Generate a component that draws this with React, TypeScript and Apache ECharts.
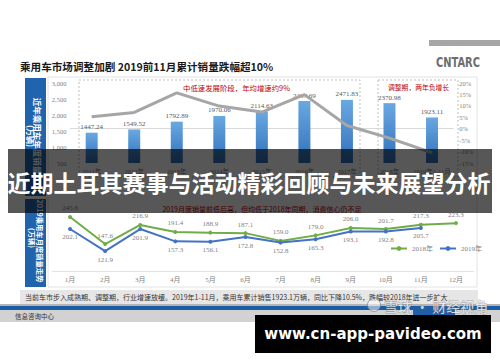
import React, { useEffect, useRef } from 'react';
import * as echarts from 'echarts';

const years = ['2011年', '2012年', '2013年', '2014年', '2015年', '2016年', '2017年', '2018年', '2019年1-11月'];
const annualSales = [1447.24, 1549.52, 1792.89, 1970.06, 2114.63, 2437.69, 2471.83, 2370.98, 1923.11];
const growthRate = [5.2, 7.1, 15.7, 9.9, 7.3, 14.9, 1.4, -4.1, -10.5];

const months = ['1月', '2月', '3月', '4月', '5月', '6月', '7月', '8月', '9月', '10月', '11月', '12月'];
const sales2018 = [245.6, 147.6, 216.9, 191.4, 188.9, 187.1, 159.0, 179.0, 206.0, 201.7, 217.3, 223.3];
const sales2019 = [202.1, 121.9, 201.9, 157.3, 156.1, 172.8, 152.8, 165.3, 193.1, 192.8, 205.7];

const title = '乘用车市场调整加剧 2019前11月累计销量跌幅超10%';
const note1 = '中低速发展阶段，年均增速约9%';
const note2 = '调整期，两年负增长';
const note3 = '2019月度销量前低后高，但均低于2018年同期，消费信心仍不足';
const banner = '近期土耳其赛事与活动精彩回顾与未来展望分析';
const summary = '当前车市步入成熟期、调整期，行业增速放缓。2019年1-11月，乘用车累计销售1923.1万辆，同比下降10.5%，跌幅较2018年进一步扩大';

export default function App() {
  const ref = useRef<HTMLDivElement>(null);
  useEffect(() => {
    const chart = echarts.init(ref.current!, null, { renderer: 'svg' });
    const cjk = '"Noto Sans CJK SC", "Noto Sans", sans-serif';
    const serif = '"Liberation Serif", "Noto Sans CJK SC", serif';
    const vtext = (text: string, x: number, y: number, size: number, bold = true) => ({
      type: 'text', x, y, rotation: -Math.PI / 2, z: 5,
      style: { text, fill: '#ffffff', fontSize: size, fontWeight: bold ? 'bold' : 'normal', fontFamily: cjk, align: 'center', verticalAlign: 'middle' },
    });
    chart.setOption({
      animation: false,
      backgroundColor: '#ffffff',
      textStyle: { fontFamily: cjk },
      grid: [
        { left: 70.4, right: 46.7, top: 83, height: 80 },
        { left: 52.5, right: 26.5, top: 213, height: 58 },
      ],
      legend: {
        data: ['2018年', '2019年'],
        left: 385, top: 240, itemWidth: 16, itemHeight: 6, itemGap: 6,
        textStyle: { fontSize: 7, color: '#7f7f7f', fontFamily: serif },
      },
      xAxis: [
        {
          type: 'category', gridIndex: 0, data: years,
          axisTick: { show: false }, axisLine: { lineStyle: { color: '#d9d9d9' } },
          axisLabel: { fontSize: 6.5, color: '#7f7f7f', margin: 5, interval: 0, fontFamily: serif },
        },
        {
          type: 'category', gridIndex: 1, data: months,
          axisTick: { show: false }, axisLine: { lineStyle: { color: '#e3e3e3' } },
          axisLabel: { fontSize: 7, color: '#7f7f7f', margin: 5, interval: 0, fontFamily: serif },
        },
      ],
      yAxis: [
        {
          type: 'value', gridIndex: 0, min: 500, max: 3000, interval: 500,
          splitLine: { show: false }, axisLine: { show: false }, axisTick: { show: false },
          axisLabel: { fontSize: 6.5, color: '#7f7f7f', margin: 4, fontFamily: serif },
        },
        {
          type: 'value', gridIndex: 0, min: -15, max: 20, interval: 5, position: 'right',
          splitLine: { show: false }, axisLine: { show: false }, axisTick: { show: false },
          axisLabel: { fontSize: 6.5, color: '#7f7f7f', margin: 6, formatter: '{value}%', fontFamily: serif },
        },
        { type: 'value', gridIndex: 1, min: 50, max: 260, show: false },
      ],
      series: [
        {
          type: 'bar', name: '年度销量', xAxisIndex: 0, yAxisIndex: 0, data: annualSales, barWidth: 12,
          itemStyle: {
            color: new echarts.graphic.LinearGradient(0, 0, 0, 1, [
              { offset: 0, color: '#6aa8e2' },
              { offset: 1, color: '#2f70b9' },
            ]),
          },
          label: {
            show: true, position: 'top', distance: 2, fontSize: 7, color: '#595959', fontFamily: serif,
            formatter: (p: any) => Number(p.value).toFixed(2),
          },
        },
        {
          type: 'line', name: '增速', xAxisIndex: 0, yAxisIndex: 1, data: growthRate, symbol: 'none', z: 3,
          lineStyle: { color: '#a6a6a6', width: 3 },
        },
        {
          type: 'line', name: '2018年', xAxisIndex: 1, yAxisIndex: 2, data: sales2018,
          symbol: 'circle', symbolSize: 4, color: '#70ad47', lineStyle: { width: 2, color: '#70ad47' },
          label: { show: true, position: 'top', distance: 3, fontSize: 7, color: '#7f7f7f', fontFamily: serif, formatter: (p: any) => Number(p.value).toFixed(1) },
        },
        {
          type: 'line', name: '2019年', xAxisIndex: 1, yAxisIndex: 2, data: sales2019,
          symbol: 'circle', symbolSize: 4, color: '#4472c4', lineStyle: { width: 2, color: '#4472c4' },
          label: { show: true, position: 'bottom', distance: 3, fontSize: 7, color: '#7f7f7f', fontFamily: serif, formatter: (p: any) => Number(p.value).toFixed(1) },
        },
      ],
      graphic: [
        { type: 'rect', z: 0, shape: { x: 429, y: 40, width: 71, height: 6 }, style: { fill: '#a6a6a6' } },
        { type: 'text', z: 5, x: 458, y: 62, scaleY: 1.3, style: { text: 'CNTARC', fill: '#6e6e6e', fontSize: 11, fontWeight: 'bold', fontFamily: '"DejaVu Sans Condensed", "DejaVu Sans", sans-serif', align: 'center', verticalAlign: 'middle' } },
        { type: 'text', z: 5, x: 20, y: 66, style: { text: title, fill: '#1a1a1a', fontSize: 10.6, fontWeight: 'bold', fontFamily: cjk, align: 'left', verticalAlign: 'middle' } },
        { type: 'rect', z: 0, shape: { x: 48, y: 77, width: 429, height: 210 }, style: { fill: 'none', stroke: '#e2e2e2', lineWidth: 1 } },
        { type: 'rect', z: 1, shape: { x: 25, y: 78, width: 21, height: 118 }, style: { fill: '#1f64ad' } },
        { type: 'rect', z: 1, shape: { x: 25, y: 199, width: 21, height: 88 }, style: { fill: '#1f64ad' } },
        vtext('近年乘用车年度销量', 38, 136, 8.5),
        vtext('(万辆)', 30, 136, 8),
        vtext('2019乘用车月度销量走势', 40, 241, 7.3),
        vtext('(万辆)', 32, 238, 7.3),
        { type: 'rect', z: 0, shape: { x: 79, y: 80, width: 281, height: 97 }, style: { fill: 'none', stroke: '#bfbfbf', lineWidth: 1, lineDash: [2, 2] } },
        { type: 'rect', z: 0, shape: { x: 378, y: 80, width: 80, height: 97 }, style: { fill: 'none', stroke: '#bfbfbf', lineWidth: 1, lineDash: [2, 2] } },
        { type: 'text', z: 5, x: 183, y: 87, style: { text: note1, fill: '#c00000', fontSize: 7.4, fontFamily: cjk, align: 'left', verticalAlign: 'middle' } },
        { type: 'text', z: 5, x: 388, y: 87, style: { text: note2, fill: '#c00000', fontSize: 6.8, fontFamily: cjk, align: 'left', verticalAlign: 'middle' } },
        { type: 'text', z: 5, x: 262, y: 209, style: { text: note3, fill: '#c00000', fontSize: 7, fontFamily: cjk, align: 'center', verticalAlign: 'middle' } },
        { type: 'rect', z: 100, shape: { x: 8, y: 149, width: 484, height: 64 }, style: { fill: 'rgba(0,0,0,0.66)' } },
        { type: 'text', z: 101, x: 249, y: 182, style: { text: banner, fill: '#ffffff', fontSize: 23, fontWeight: 'bold', fontFamily: cjk, align: 'center', verticalAlign: 'middle' } },
        { type: 'rect', z: 1, shape: { x: 20, y: 290, width: 458, height: 14 }, style: { fill: '#e6e6e6' } },
        { type: 'text', z: 5, x: 25, y: 297, style: { text: summary, fill: '#333333', fontSize: 7, fontFamily: cjk, align: 'left', verticalAlign: 'middle' } },
        { type: 'rect', z: 1, shape: { x: 0, y: 304, width: 500, height: 2 }, style: { fill: '#b4b4b4' } },
        { type: 'rect', z: 1, shape: { x: 0, y: 306, width: 500, height: 4 }, style: { fill: '#1a5da6' } },
        { type: 'rect', z: 1, shape: { x: 0, y: 310, width: 500, height: 12 }, style: { fill: '#d2d2d2' } },
        { type: 'text', z: 5, x: 15, y: 316, style: { text: '信息咨询中心', fill: '#333333', fontSize: 6.5, fontFamily: cjk, align: 'left', verticalAlign: 'middle' } },
        { type: 'rect', z: 2, shape: { x: 413, y: 307, width: 42, height: 11 }, style: { fill: '#1f5fa8' } },
        { type: 'circle', z: 105, shape: { cx: 374, cy: 305, r: 6.5 }, style: { fill: 'rgba(255,255,255,0.5)', stroke: 'rgba(110,110,110,0.6)', lineWidth: 1 } },
        { type: 'text', z: 105, x: 384, y: 306, style: { text: '雪球 · 财经视角', fill: 'rgba(255,255,255,0.78)', stroke: 'rgba(100,100,100,0.55)', lineWidth: 0.8, fontSize: 14, fontFamily: cjk, align: 'left', verticalAlign: 'middle' } },
        { type: 'rect', z: 110, shape: { x: 255, y: 315, width: 236, height: 38 }, style: { fill: '#000000' } },
        { type: 'text', z: 111, x: 373, y: 334, style: { text: 'www.cn-app-pavideo.com', fill: '#ffffff', fontSize: 15, fontWeight: 'bold', fontFamily: '"DejaVu Sans", sans-serif', align: 'center', verticalAlign: 'middle' } },
      ],
    });
    return () => chart.dispose();
  }, []);
  return <div ref={ref} style={{ position: 'fixed', left: 0, top: 0, width: 500, height: 362 }} />;
}
